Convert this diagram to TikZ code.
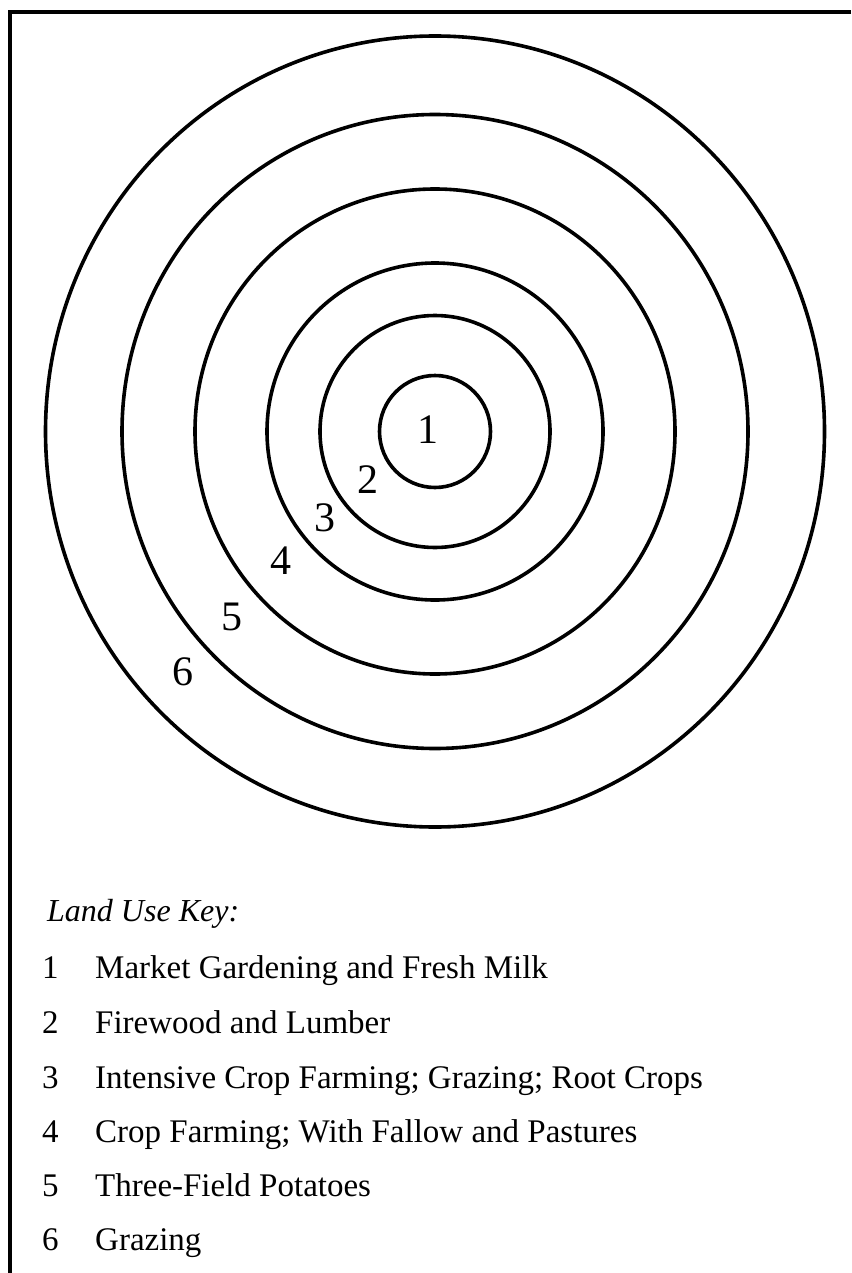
\documentclass[tikz,border=0pt]{standalone}
\usepackage{fontspec}
\setmainfont{Liberation Serif}
\begin{document}
\begin{tikzpicture}[x=1pt,y=-1pt,
  ring/.style={line width=3.6pt, draw=black},
  frameline/.style={line width=3.4pt, draw=black},
  zonelabel/.style={inner sep=0pt, anchor=center, font=\fontsize{42}{46}\selectfont},
  keynum/.style={inner sep=0pt, anchor=base west, font=\fontsize{33}{38}\selectfont},
  keytext/.style={inner sep=0pt, anchor=base west, font=\fontsize{33}{38}\selectfont},
  keytitle/.style={inner sep=0pt, anchor=base west, font=\fontsize{32}{38}\selectfont\itshape}]
\useasboundingbox (0,0) rectangle (851,1273);
% frame
\coordinate (tl) at (10,12);
\coordinate (tr) at (851,12);
\coordinate (bl) at (10,1273);
\draw[frameline] (tr) -- (tl) -- (bl);
% rings
\coordinate (c) at (435,431.5);
\draw[ring] (c) ellipse [x radius=55.5, y radius=56];
\draw[ring] (c) ellipse [x radius=115, y radius=116];
\draw[ring] (c) ellipse [x radius=168, y radius=168.5];
\draw[ring] (c) ellipse [x radius=240, y radius=242.5];
\draw[ring] (c) ellipse [x radius=313, y radius=317];
\draw[ring] (c) ellipse [x radius=389.5, y radius=395.5];
% zone labels
\node[zonelabel] (z1) at (427.5,430) {1};
\node[zonelabel] (z2) at (367.5,480) {2};
\node[zonelabel] (z3) at (325,518) {3};
\node[zonelabel] (z4) at (281,561) {4};
\node[zonelabel] (z5) at (231.5,617) {5};
\node[zonelabel] (z6) at (182.5,672) {6};
% key
\node[keytitle] (kt) at (47,921) {Land Use Key:};
\node[keynum] (k1) at (42,978) {1};
\node[keytext] (t1) at (95,978) {Market Gardening and Fresh Milk};
\node[keynum] (k2) at (42,1033) {2};
\node[keytext] (t2) at (95,1033) {Firewood and Lumber};
\node[keynum] (k3) at (42,1088) {3};
\node[keytext] (t3) at (95,1088) {Intensive Crop Farming; Grazing; Root Crops};
\node[keynum] (k4) at (42,1142) {4};
\node[keytext] (t4) at (95,1142) {Crop Farming; With Fallow and Pastures};
\node[keynum] (k5) at (42,1196) {5};
\node[keytext] (t5) at (95,1196) {Three-Field Potatoes};
\node[keynum] (k6) at (42,1250) {6};
\node[keytext] (t6) at (95,1250) {Grazing};
\end{tikzpicture}
\end{document}
